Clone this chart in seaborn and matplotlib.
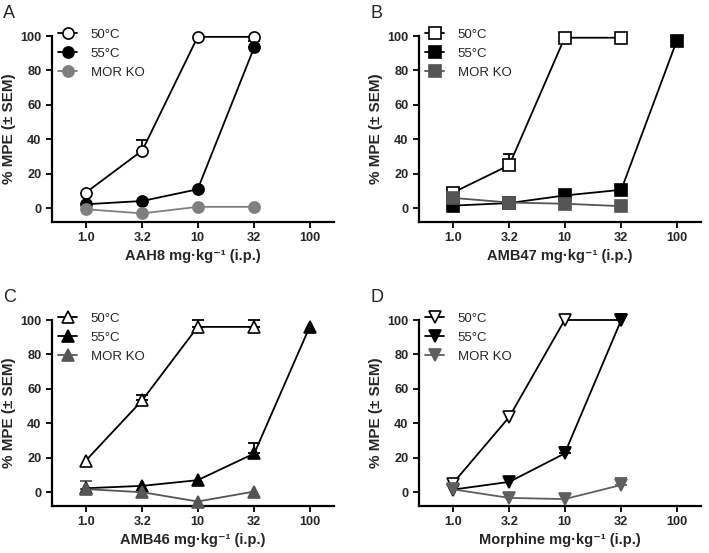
import numpy as np
import pandas as pd
import seaborn as sns
import matplotlib.pyplot as plt

# doses shared by all panels (mg/kg, i.p.)
doses = [1.0, 3.2, 10, 32, 100]
dose_labels = ["1.0", "3.2", "10", "32", "100"]
series_names = ["50°C", "55°C", "MOR KO"]

# panel A - AAH8
aah8_50 = [9, 33.5, 99.5, 99.5, np.nan]
aah8_55 = [2.3, 4.2, 11, 93.5, np.nan]
aah8_ko = [-0.6, -3, 0.8, 0.8, np.nan]
aah8_50_sem = [0, 6, 0, 0, 0]
aah8_55_sem = [0, 0, 0, 3.5, 0]
aah8_ko_sem = [0, 0, 0, 0, 0]

# panel B - AMB47
amb47_50 = [9, 25, 99, 99, np.nan]
amb47_55 = [1.5, 3, 7.4, 10.7, 97]
amb47_ko = [6, 3.3, 2.6, 1.2, np.nan]
amb47_50_sem = [0, 6.5, 0, 0, 0]
amb47_55_sem = [0, 0, 0, 0, 0]
amb47_ko_sem = [0, 0, 0, 0, 0]

# panel C - AMB46
amb46_50 = [18.3, 53.4, 96, 96, np.nan]
amb46_55 = [2.3, 3.7, 7, 22.5, 96]
amb46_ko = [1.8, 0, -5.4, 0.4, np.nan]
amb46_50_sem = [0, 3, 4, 4, 0]
amb46_55_sem = [0, 0, 0, 6, 0]
amb46_ko_sem = [5, 0, 0, 0, 0]

# panel D - morphine
morph_50 = [5, 43.7, 100, 100, np.nan]
morph_55 = [1.5, 6, 22.5, 100, np.nan]
morph_ko = [1.7, -3.3, -4, 4.2, np.nan]
morph_50_sem = [0, 0, 0, 0, 0]
morph_55_sem = [0, 0, 3.5, 0, 0]
morph_ko_sem = [0, 0, 0, 4, 0]

panels = [
    ("A", "AAH8", "o", "#7f7f7f", [aah8_50, aah8_55, aah8_ko], [aah8_50_sem, aah8_55_sem, aah8_ko_sem]),
    ("B", "AMB47", "s", "#555555", [amb47_50, amb47_55, amb47_ko], [amb47_50_sem, amb47_55_sem, amb47_ko_sem]),
    ("C", "AMB46", "^", "#555555", [amb46_50, amb46_55, amb46_ko], [amb46_50_sem, amb46_55_sem, amb46_ko_sem]),
    ("D", "Morphine", "v", "#5f5f5f", [morph_50, morph_55, morph_ko], [morph_50_sem, morph_55_sem, morph_ko_sem]),
]

sns.set_style("ticks")
plt.rcParams['font.family'] = ['Liberation Sans', 'DejaVu Sans']

W, H = 709, 553
fig = plt.figure(figsize=(W / 100, H / 100), dpi=100)

# axes boxes in pixels: left, top of y=100, bottom of axis
boxes = {"A": (52, 36, 222), "B": (419, 36, 222),
         "C": (52, 320, 506), "D": (419, 320, 506)}
ax_w = 282

for letter, drug, marker, ko_color, values, sems in panels:
    left, top, bottom = boxes[letter]
    ax = fig.add_axes([left / W, 1 - bottom / H, ax_w / W, (bottom - top) / H])

    face_colors = ["white", "black", ko_color]
    line_colors = ["black", "black", ko_color]
    msize = 8 if marker in ("o", "s") else 9

    for name, vals, sem, fc, lc in zip(series_names, values, sems, face_colors, line_colors):
        df = pd.DataFrame({"dose": doses, "mpe": vals, "sem": sem}).dropna()
        has_err = df["sem"] > 0
        if has_err.any():
            e = df[has_err]
            ax.errorbar(e["dose"], e["mpe"], yerr=[np.zeros(len(e)), e["sem"]],
                        fmt="none", ecolor=lc, elinewidth=1.3, capsize=4,
                        capthick=1.3, zorder=2, clip_on=False)
        sns.lineplot(data=df, x="dose", y="mpe", ax=ax, color=lc, linewidth=1.3,
                     marker=marker, markersize=msize, markerfacecolor=fc,
                     markeredgecolor=lc, markeredgewidth=1.2, label=name,
                     zorder=3, clip_on=False, legend=False)

    ax.set_xscale("log")
    ax.set_xlim(0.5, 165)
    ax.set_ylim(-8, 100)
    ax.set_xticks(doses)
    ax.set_xticklabels(dose_labels)
    ax.minorticks_off()
    ax.set_yticks([0, 20, 40, 60, 80, 100])
    for lbl in ax.get_xticklabels() + ax.get_yticklabels():
        lbl.set_fontweight("bold")
    ax.tick_params(axis="both", labelsize=9.2, width=1.3, length=4, color="black")
    sns.despine(ax=ax)
    for sp in ["left", "bottom"]:
        ax.spines[sp].set_linewidth(1.6)
        ax.spines[sp].set_color("black")

    ax.set_xlabel(drug + " mg·kg⁻¹ (i.p.)", fontsize=10.5, fontweight="bold", labelpad=3)
    ax.set_ylabel("% MPE (± SEM)", fontsize=11, fontweight="bold", labelpad=3)

    leg = ax.legend(loc="center left", bbox_to_anchor=(0.02, 0.905), frameon=False,
                    fontsize=9.5, handlelength=1.5, handletextpad=1.0,
                    labelspacing=0.5, borderpad=0, borderaxespad=0)

    fig.text((left - 49) / W, 1 - (top - 18) / H, letter, fontsize=13,
             ha="left", va="baseline")

fig.savefig("out.png", dpi=100)
